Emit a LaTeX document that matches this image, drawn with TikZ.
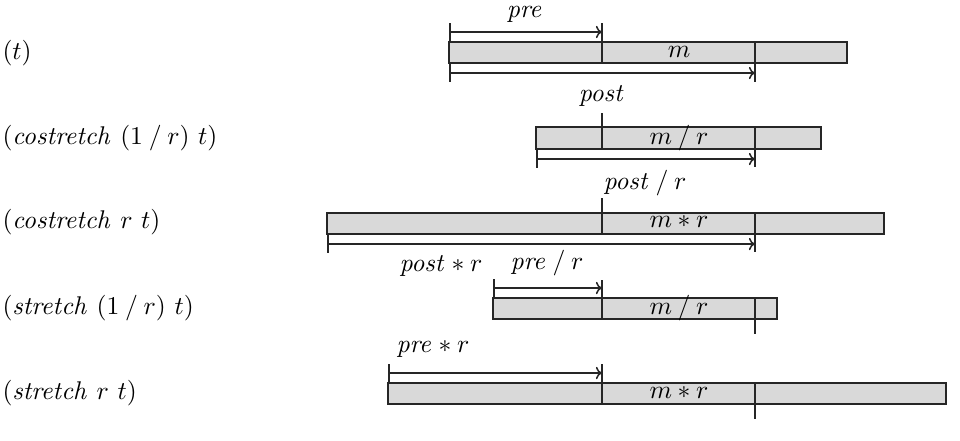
\documentclass[tikz,border=0pt]{standalone}
\usetikzlibrary{arrows.meta}
\definecolor{barfill}{HTML}{D9D9D9}
\begin{document}
\begin{tikzpicture}[x=0.39pt,y=-0.39pt,
  bar/.style={draw=black!85,fill=barfill,line width=0.6pt},
  divline/.style={draw=black!85,line width=0.6pt},
  span/.style={draw=black!85,line width=0.6pt,{Bar[width=7pt]}-{To[length=2.4pt,width=4.8pt]}},
  lbl/.style={anchor=west,inner sep=0pt},
  txt/.style={inner sep=0pt}]
\useasboundingbox (0,0) rectangle (960,440);
% left labels
\node[lbl] (l1) at (2,53) {$(t)$};
\node[lbl] (l2) at (2,138) {$(\mathit{costretch}\ (1\mathbin{/}r)\ t)$};
\node[lbl] (l3) at (2,222) {$(\mathit{costretch}\ r\ t)$};
\node[lbl] (l4) at (2,308) {$(\mathit{stretch}\ (1\mathbin{/}r)\ t)$};
\node[lbl] (l5) at (2,393) {$(\mathit{stretch}\ r\ t)$};
% row 1
\draw[bar] (449,42) rectangle (847,63);
\draw[divline] (602,23) -- (602,63);
\draw[divline] (755,42) -- (755,82);
\coordinate (a1s) at (449,32); \coordinate (a1e) at (602,32);
\draw[span] (a1s) -- (a1e);
\coordinate (b1s) at (449,73); \coordinate (b1e) at (755,73);
\draw[span] (b1s) -- (b1e);
\node[txt] (pre) at (525,14) {$\mathit{pre}$};
\node[txt] (m1) at (679,52) {$m$};
\node[txt] (post) at (602,96) {$\mathit{post}$};
% row 2
\draw[bar] (536,127) rectangle (821,149);
\draw[divline] (602,113) -- (602,149);
\draw[divline] (755,127) -- (755,167);
\coordinate (b2s) at (536,159); \coordinate (b2e) at (755,159);
\draw[span] (b2s) -- (b2e);
\node[txt] (m2) at (679,138) {$m\mathbin{/}r$};
\node[txt] (postr) at (645,183) {$\mathit{post}\mathbin{/}r$};
% row 3
\draw[bar] (327,213) rectangle (884,234);
\draw[divline] (602,198) -- (602,234);
\draw[divline] (755,213) -- (755,252);
\coordinate (b3s) at (327,244); \coordinate (b3e) at (755,244);
\draw[span] (b3s) -- (b3e);
\node[txt] (m3) at (679,222) {$m\ast r$};
\node[txt] (postm) at (441,266) {$\mathit{post}\ast r$};
% row 4
\draw[bar] (493,298) rectangle (777,319);
\draw[divline] (602,280) -- (602,319);
\draw[divline] (755,298) -- (755,334);
\coordinate (a4s) at (493,288); \coordinate (a4e) at (602,288);
\draw[span] (a4s) -- (a4e);
\node[txt] (m4) at (679,308) {$m\mathbin{/}r$};
\node[txt] (prer) at (547,263) {$\mathit{pre}\mathbin{/}r$};
% row 5
\draw[bar] (388,383) rectangle (946,404);
\draw[divline] (602,364) -- (602,404);
\draw[divline] (755,383) -- (755,419);
\coordinate (a5s) at (388,373); \coordinate (a5e) at (602,373);
\draw[span] (a5s) -- (a5e);
\node[txt] (m5) at (679,393) {$m\ast r$};
\node[txt] (prem) at (433,349) {$\mathit{pre}\ast r$};
\end{tikzpicture}
\end{document}
